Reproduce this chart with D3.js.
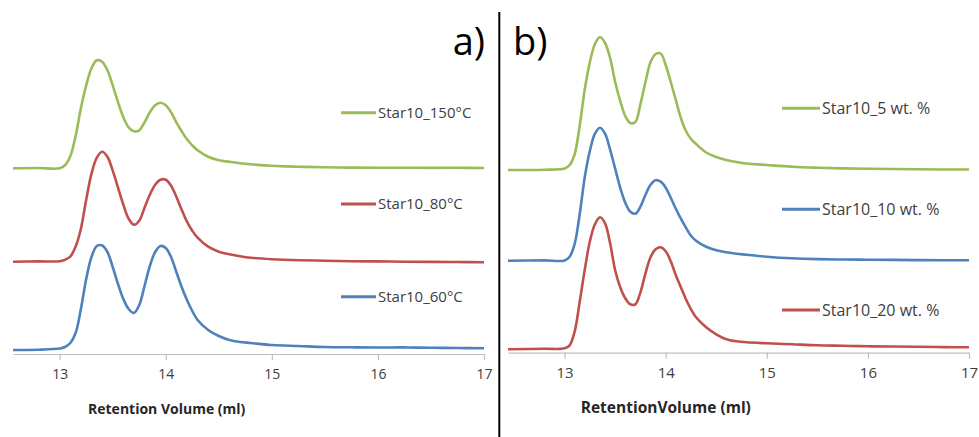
<!DOCTYPE html>
<html><head><meta charset="utf-8">
<script src="https://cdn.jsdelivr.net/npm/d3@7"></script>
<style>
body{margin:0;background:#fff}
svg{display:block}
text{font-family:"Open Sans",sans-serif}
</style>
</head><body>
<svg id="chart" width="979" height="437"></svg>
<script>
// ---------- DATA ----------
const volumeA = [12.56,12.8,13.0,13.05,13.1,13.15,13.2,13.25,13.3,13.35,13.4,13.45,13.5,13.55,13.6,13.65,13.7,13.75,13.8,13.85,13.9,13.95,14.0,14.05,14.1,14.15,14.2,14.25,14.3,14.4,14.5,14.6,14.7,14.8,15.0,15.25,15.5,15.75,16.0,16.25,16.5,16.75,17.0];
const volumeB = [12.44,12.8,13.0,13.05,13.1,13.15,13.2,13.25,13.3,13.35,13.4,13.45,13.5,13.55,13.6,13.65,13.7,13.75,13.8,13.85,13.9,13.95,14.0,14.05,14.1,14.15,14.2,14.25,14.3,14.4,14.5,14.6,14.7,14.8,15.0,15.25,15.5,15.75,16.0,16.25,16.5,16.75,17.0];

// panel a) (stacked detector signal, arbitrary units)
const star10_150C = [1.857,1.86,1.857,1.887,1.977,2.177,2.457,2.687,2.857,2.937,2.922,2.837,2.687,2.517,2.367,2.267,2.227,2.237,2.317,2.417,2.487,2.512,2.487,2.417,2.317,2.227,2.147,2.087,2.037,1.972,1.937,1.922,1.907,1.897,1.882,1.873,1.867,1.864,1.862,1.863,1.861,1.862,1.86];
const star10_80C  = [0.923,0.926,0.928,0.943,0.973,1.073,1.253,1.543,1.803,1.963,2.023,1.973,1.833,1.663,1.493,1.353,1.293,1.333,1.463,1.593,1.693,1.743,1.743,1.683,1.573,1.443,1.323,1.233,1.163,1.073,1.023,0.998,0.978,0.963,0.948,0.938,0.933,0.928,0.926,0.923,0.921,0.92,0.917];
const star10_60C  = [0.04,0.043,0.055,0.07,0.11,0.21,0.45,0.75,0.97,1.08,1.085,1.02,0.87,0.70,0.55,0.45,0.41,0.49,0.68,0.88,1.02,1.08,1.06,0.97,0.82,0.67,0.54,0.43,0.34,0.24,0.18,0.14,0.12,0.11,0.09,0.08,0.07,0.067,0.065,0.066,0.062,0.06,0.057];

// panel b)
const star10_5wt  = [1.827,1.83,1.842,1.877,1.987,2.277,2.637,2.907,3.087,3.157,3.097,2.947,2.707,2.517,2.367,2.297,2.307,2.487,2.707,2.907,2.987,2.992,2.877,2.707,2.527,2.347,2.217,2.137,2.087,2.002,1.957,1.927,1.907,1.892,1.877,1.86,1.85,1.843,1.839,1.837,1.835,1.832,1.832];
const star10_10wt = [0.92,0.923,0.923,0.96,1.09,1.39,1.76,2.02,2.19,2.25,2.19,2.03,1.84,1.65,1.50,1.41,1.39,1.46,1.58,1.68,1.725,1.71,1.65,1.55,1.44,1.34,1.25,1.17,1.12,1.06,1.025,1.005,0.99,0.98,0.96,0.944,0.936,0.932,0.93,0.928,0.926,0.925,0.924];
const star10_20wt = [0.034,0.039,0.044,0.074,0.214,0.514,0.834,1.114,1.284,1.354,1.294,1.094,0.824,0.654,0.544,0.484,0.484,0.604,0.794,0.954,1.034,1.054,1.014,0.914,0.774,0.654,0.534,0.434,0.354,0.254,0.184,0.134,0.114,0.104,0.094,0.084,0.074,0.069,0.064,0.062,0.059,0.056,0.054];

const namesA = ["Star10_150°C","Star10_80°C","Star10_60°C"];
const namesB = ["Star10_5 wt. %","Star10_10 wt. %","Star10_20 wt. %"];
const xTickValues = [13,14,15,16,17];
const panelLabels = ["a)","b)"];
const axisTitles = ["Retention Volume (ml)","RetentionVolume (ml)"];

// ---------- STYLE / LAYOUT ----------
const GREEN="#9bbb59", RED="#c0504d", BLUE="#4f81bd";
const svg = d3.select("#chart");

const panels = [
  {vol: volumeA, series:[star10_150C, star10_80C, star10_60C], names:namesA, colors:[GREEN,RED,BLUE],
   xr:[13,484], axisY:354, legY:[112.7,204,296.7], legX:341, legLen:35, legFont:15, tickFont:14, titleFont:14,
   titleX:166.7, label:panelLabels[0], labelX:485, labelAnchor:"end", title:axisTitles[0]},
  {vol: volumeB, series:[star10_5wt, star10_10wt, star10_20wt], names:namesB, colors:[GREEN,BLUE,RED],
   xr:[508,969], axisY:352.7, legY:[108.3,209.3,310], legX:782, legLen:38, legFont:16, tickFont:15, titleFont:15.5,
   titleX:665.8, label:panelLabels[1], labelX:513, labelAnchor:"start", title:axisTitles[1]}
];

panels.forEach(p => {
  const x = d3.scaleLinear().domain([p.vol[0], 17]).range(p.xr);
  const y = d3.scaleLinear().domain([0, 3.4]).range([p.axisY, p.axisY - 340]);
  const g = svg.append("g");

  // axis
  const ax = g.append("g").attr("transform",`translate(0,${p.axisY})`)
    .call(d3.axisBottom(x).tickValues(xTickValues).tickFormat(d3.format("d")).tickSizeOuter(0).tickSizeInner(6).tickPadding(9));
  ax.select(".domain").attr("stroke","#bfbfbf").attr("stroke-width",1.2);
  ax.selectAll(".tick line").attr("stroke","#bfbfbf").attr("stroke-width",1.2);
  ax.selectAll(".tick text").attr("fill","#404040").style("font-size",p.tickFont+"px").style("font-family","'Open Sans',sans-serif");

  // lines
  const line = d3.line().x((d,i)=>x(p.vol[i])).y(d=>y(d)).curve(d3.curveCatmullRom.alpha(0.5));
  p.series.forEach((s,k)=>{
    g.append("path").datum(s).attr("d",line).attr("fill","none")
      .attr("stroke",p.colors[k]).attr("stroke-width",2.6).attr("stroke-linejoin","round");
  });

  // legend
  p.names.forEach((n,k)=>{
    g.append("line").attr("x1",p.legX).attr("x2",p.legX+p.legLen).attr("y1",p.legY[k]).attr("y2",p.legY[k])
      .attr("stroke",p.colors[k]).attr("stroke-width",3);
    g.append("text").attr("x",p.legX+p.legLen+2).attr("y",p.legY[k]).attr("dy","0.36em")
      .attr("fill","#404040").style("font-size",p.legFont+"px").text(n);
  });

  // axis title
  g.append("text").attr("x",p.titleX).attr("y",p.axisY+60).attr("text-anchor","middle")
    .attr("fill","#262626").style("font-weight","bold").style("font-size",p.titleFont+"px").text(p.title);

  // panel label
  g.append("text").attr("x",p.labelX).attr("y",54.5).attr("text-anchor",p.labelAnchor)
    .attr("fill","#000").style("font-size","38px").text(p.label);
});

// divider
svg.append("line").attr("x1",499.3).attr("x2",499.3).attr("y1",12).attr("y2",437)
  .attr("stroke","#000").attr("stroke-width",2);
</script>
</body></html>
